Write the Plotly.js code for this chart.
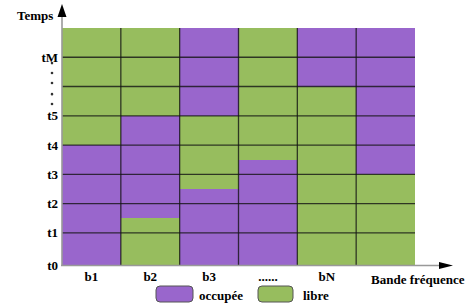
<!DOCTYPE html>
<html>
<head>
<meta charset="utf-8">
<script src="https://cdn.plot.ly/plotly-3.0.1.min.js"></script>
<style>html,body{margin:0;padding:0;background:#fff;}#chart{width:471px;height:308px;}</style>
</head>
<body>
<div id="chart"></div>
<script>
// ---- data ----
var bands = ["b1", "b2", "b3", "......", "bN", ""];
var timeTickVals = [1, 2, 3, 4, 5, 7];
var timeTickText = ["t1", "t2", "t3", "t4", "t5", "tM"];
var originLabel = "t0";
var dotsY = [5.4, 5.74, 6.12, 6.46, 6.8];
// stacked segments per band (bottom to top), in time units
var seg1 = [4, 1.5, 2.5, 3.5, 6, 3];
var state1 = ["occ", "lib", "occ", "occ", "lib", "lib"];
var seg2 = [4, 3.5, 2.5, 4.5, 2, 5];
var state2 = ["lib", "occ", "lib", "lib", "occ", "occ"];
var seg3 = [0, 3, 3, 0, 0, 0];
var state3 = ["", "lib", "occ", "", "", ""];
var stateKeys = ["occ", "lib"];
var stateNames = ["occupée", "libre"];
var stateColors = ["#9966CC", "#97BD5E"];
var gridRows = [1, 2, 3, 4, 5, 6, 7];
var gridCols = [1, 2, 3, 4, 5];
var yMin = -0.1, yMax = 8;

// ---- geometry helpers ----
var W = 471, H = 308;
var L = 62, R = 415, T = 28, B = 265;
function px(x) { return (x - L) / (R - L); }
function py(y) { return (B - y) / (B - T); }
function roundRect(x0, y0, x1, y1, r) {
  var pts = [
    "M", px(x0 + r), py(y0),
    "L", px(x1 - r), py(y0),
    "Q", px(x1), py(y0), px(x1), py(y0 + r),
    "L", px(x1), py(y1 - r),
    "Q", px(x1), py(y1), px(x1 - r), py(y1),
    "L", px(x0 + r), py(y1),
    "Q", px(x0), py(y1), px(x0), py(y1 - r),
    "L", px(x0), py(y0 + r),
    "Q", px(x0), py(y0), px(x0 + r), py(y0), "Z"];
  return pts.join(" ");
}

var xs = bands.map(function (b, i) { return i + 0.5; });
var layers = [[seg1, state1], [seg2, state2], [seg3, state3]];
var traces = [];
var bottoms = bands.map(function () { return 0; });
layers.forEach(function (ly, li) {
  var base = bottoms.map(function (b) { return li === 0 ? yMin : b; });
  var tops = bottoms.map(function (b, i) { return b + ly[0][i]; });
  stateKeys.forEach(function (k, si) {
    traces.push({
      type: "bar",
      x: xs,
      base: base,
      y: tops.map(function (t, i) { return ly[1][i] === k && ly[0][i] > 0 ? t - base[i] : 0; }),
      width: 1,
      marker: { color: stateColors[si], line: { width: 0 } },
      hoverinfo: "skip",
      showlegend: false
    });
  });
  bottoms = tops;
});

var FAMILY = '"Liberation Serif", "DejaVu Serif", serif';
var font = { family: FAMILY, size: 13, color: "#000", weight: "bold" };

var shapes = [];
gridRows.forEach(function (r) {
  shapes.push({ type: "line", xref: "x", yref: "y", x0: 0, x1: bands.length, y0: r, y1: r,
    line: { color: "rgba(20,20,20,0.8)", width: 1.3 }, layer: "above" });
});
gridCols.forEach(function (c) {
  shapes.push({ type: "line", xref: "x", yref: "y", x0: c, x1: c, y0: yMin, y1: yMax,
    line: { color: "rgba(20,20,20,0.8)", width: 1.3 }, layer: "above" });
});
// dots between t5 and tM
dotsY.forEach(function (d) {
  shapes.push({ type: "circle", xref: "paper", yref: "y", xsizemode: "pixel", ysizemode: "pixel",
    xanchor: px(52), yanchor: d, x0: -1.3, x1: 1.3, y0: -1.3, y1: 1.3,
    fillcolor: "#333", line: { width: 0 } });
});
// axes with arrows
shapes.push({ type: "line", xref: "paper", yref: "paper", x0: px(62), x1: px(62), y0: py(266), y1: py(12),
  line: { color: "#999", width: 1.6 }, layer: "above" });
shapes.push({ type: "line", xref: "paper", yref: "paper", x0: px(61), x1: px(442), y0: py(265.5), y1: py(265.5),
  line: { color: "#999", width: 1.6 }, layer: "above" });
shapes.push({ type: "path", xref: "paper", yref: "paper",
  path: "M " + px(62) + " " + py(4) + " L " + px(57.5) + " " + py(17) + " L " + px(66.5) + " " + py(17) + " Z",
  fillcolor: "#000", line: { width: 0 }, layer: "above" });
shapes.push({ type: "path", xref: "paper", yref: "paper",
  path: "M " + px(453) + " " + py(265.5) + " L " + px(439) + " " + py(262) + " L " + px(439) + " " + py(269) + " Z",
  fillcolor: "#000", line: { width: 0 }, layer: "above" });

// legend
var legendBoxes = [[156, 193], [258, 293]];
var legendTextX = [197, 301];
var annotations = [];
stateNames.forEach(function (name, i) {
  shapes.push({ type: "path", xref: "paper", yref: "paper",
    path: roundRect(legendBoxes[i][0], 286, legendBoxes[i][1], 302, 4),
    fillcolor: stateColors[i], line: { color: "#555", width: 1 } });
  annotations.push({ xref: "paper", yref: "paper", x: px(legendTextX[i]), y: py(295), xanchor: "left", yanchor: "middle",
    text: name, showarrow: false, font: font });
});
annotations.push({ xref: "paper", yref: "paper", x: px(55), y: py(15), xanchor: "right", yanchor: "middle",
  text: "Temps", showarrow: false, font: font });
annotations.push({ xref: "paper", yref: "paper", x: px(418), y: py(279), xanchor: "center", yanchor: "middle",
  text: "Bande fréquence", showarrow: false, font: font });

var layout = {
  width: W, height: H,
  margin: { l: L, r: W - R, t: T, b: H - B, pad: 0 },
  paper_bgcolor: "#fff", plot_bgcolor: "#fff",
  barmode: "overlay", bargap: 0,
  showlegend: false,
  xaxis: { range: [0, bands.length], tickvals: xs, ticktext: bands, showgrid: false, zeroline: false,
    showline: false, ticks: "", tickfont: font, fixedrange: true, ticklabelstandoff: 2 },
  yaxis: { range: [yMin, yMax], tickvals: [yMin].concat(timeTickVals), ticktext: [originLabel].concat(timeTickText),
    showgrid: false, zeroline: false,
    showline: false, ticks: "", tickfont: font, fixedrange: true, ticklabelstandoff: 3 },
  shapes: shapes,
  annotations: annotations
};

Plotly.newPlot("chart", traces, layout, { displayModeBar: false, staticPlot: true });
</script>
</body>
</html>
